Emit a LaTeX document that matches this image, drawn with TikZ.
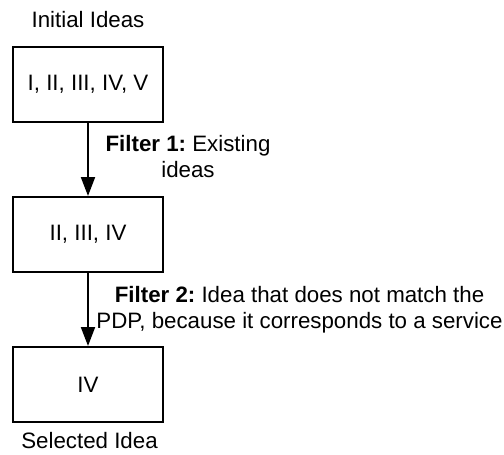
\documentclass[tikz,border=0pt]{standalone}
\usepackage{fontspec}
\setmainfont{Liberation Sans}
\usetikzlibrary{arrows.meta}
\frenchspacing
\begin{document}
\begin{tikzpicture}[x=1pt,y=-1pt,
  idea/.style={draw=black,line width=2pt,minimum width=150pt,minimum height=75pt,inner sep=0pt,font=\fontsize{22.3}{26}\selectfont},
  txt/.style={inner sep=0pt,font=\fontsize{22.3}{26}\selectfont\frenchspacing,align=center},
  flow/.style={line width=2pt,-{Triangle[length=19pt,width=14pt]}}]
\useasboundingbox (0,0) rectangle (504,455);
\node[txt] (t1) at (88,20) {Initial Ideas};
\node[idea] (b1) at (88,84.5) {I, II, III, IV, V};
\node[idea] (b2) at (88,234.5) {II, III, IV};
\node[idea] (b3) at (88,384.5) {IV};
\node[txt] (t2) at (89.5,441) {Selected Idea};
\draw[flow] (b1) -- (b2);
\draw[flow] (b2) -- (b3);
\node[txt] (f1) at (188,156.5) {\textbf{Filter 1:} Existing\\ideas};
\node[txt] (f2) at (299.5,310) {\textbf{Filter 2:} Idea that does not match the\\PDP, because it corresponds to a service};
\end{tikzpicture}
\end{document}
